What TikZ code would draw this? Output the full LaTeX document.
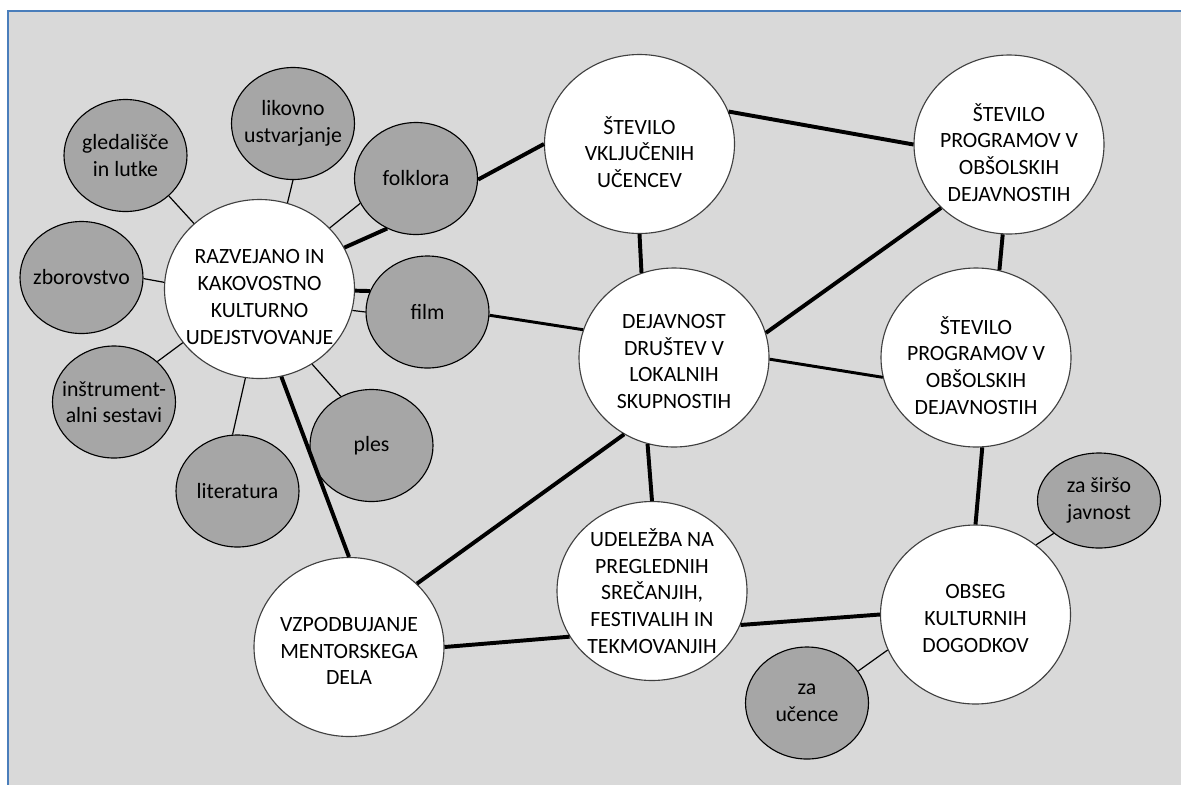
\documentclass[tikz,border=0pt]{standalone}
\usepackage{fontspec}
\setmainfont{Carlito}
\usetikzlibrary{shapes.geometric}
\definecolor{canvas}{HTML}{D9D9D9}
\definecolor{topicgray}{HTML}{A6A6A6}
\definecolor{framebl}{HTML}{4A7EBB}
\definecolor{rim}{HTML}{404040}
\tikzstyle{txt} = [align=center, font=\fontsize{15.5}{19}\selectfont, inner sep=0pt]
\tikzstyle{goal} = [
    ellipse,
    draw=rim,
    line width=0.8pt,
    fill=white,
    minimum width=47.5mm,
    minimum height=44.75mm,
    inner sep=0pt
]
\tikzstyle{topic} = [
    ellipse,
    draw,
    line width=0.8pt,
    fill=topicgray,
    minimum width=30.75mm,
    minimum height=28mm,
    inner sep=0pt
]
\tikzstyle{weak link} = [line width=0.85pt]
\tikzstyle{mid link} = [line width=2.1pt]
\tikzstyle{strong link} = [line width=2.8pt]

\begin{document}
\begin{tikzpicture}[x=0.25mm, y=-0.25mm]
    \useasboundingbox (0, 0) rectangle (1181, 785);

    % Background.
    \fill [white] (0, 0) rectangle (1181, 785);
    \fill [canvas] (8, 11) rectangle (1181, 785);
    \draw [framebl, line width=1.4pt] (1181, 11) -- (8, 11) -- (8, 785);

    % Main nodes.
    \node (razvejano) [goal, label={[txt, yshift=-2mm]center:RAZVEJANO IN\\KAKOVOSTNO\\KULTURNO\\UDEJSTVOVANJE}] at (259.5, 289) {};
    \node (stevilo ucencev) [goal, label={[txt, yshift=-2mm]center:ŠTEVILO\\VKLJUČENIH\\UČENCEV}] at (639.5, 144) {};
    \node (programi top) [goal, label={[txt, yshift=-2mm]center:ŠTEVILO\\PROGRAMOV V\\OBŠOLSKIH\\DEJAVNOSTIH}] at (1009, 144.5) {};
    \node (drustva) [goal, label={[txt, yshift=-1mm]center:DEJAVNOST\\DRUŠTEV V\\LOKALNIH\\SKUPNOSTIH}] at (674, 357.5) {};
    \node (programi bottom) [goal, label={[txt, yshift=-2mm]center:ŠTEVILO\\PROGRAMOV V\\OBŠOLSKIH\\DEJAVNOSTIH}] at (976, 357.5) {};
    \node (udelezba) [goal, label={[txt]center:UDELEŽBA NA\\PREGLEDNIH\\SREČANJIH,\\FESTIVALIH IN\\TEKMOVANJIH}] at (652, 591) {};
    \node (mentorsko delo) [goal, label={[txt, yshift=-1mm]center:VZPODBUJANJE\\MENTORSKEGA\\DELA}] at (349, 647) {};
    \node (obseg) [goal, label={[txt, yshift=-1mm]center:OBSEG\\KULTURNIH\\DOGODKOV}] at (975.5, 614.5) {};

    % Topic nodes.
    \node (likovno) [topic, label={[txt]center:likovno\\ustvarjanje}] at (293, 123.5) {};
    \node (gledalisce) [topic, label={[txt]center:gledališče\\in lutke}] at (125.5, 155.5) {};
    \node (zborovstvo) [topic, label={[txt]center:zborovstvo}] at (81.5, 277.5) {};
    \node (folklora) [topic, label={[txt]center:folklora}] at (416, 178.5) {};
    \node (film) [topic, label={[txt]center:film}] at (427.5, 312) {};
    \node (instrumentalni) [topic, label={[txt]center:inštrument-\\alni sestavi}] at (114, 402) {};
    \node (ples) [topic, label={[txt]center:ples}] at (371.5, 445.5) {};
    \node (literatura) [topic, label={[txt]center:literatura}] at (237.5, 491) {};
    \node (sirsa javnost) [topic, minimum height=23.75mm, label={[txt]center:za širšo\\javnost}] at (1099, 500.5) {};
    \node (za ucence) [topic, label={[txt]center:za\\učence}] at (807, 703) {};

    % Links round the first node.
    \draw [weak link] (likovno.270) -- (razvejano.72);
    \draw [weak link] (gledalisce.-43) -- (razvejano.135);
    \draw [weak link] (zborovstvo.-1) -- (razvejano.176);
    \draw [weak link] (instrumentalni.43) -- (razvejano.215);
    \draw [weak link] (literatura.95) -- (razvejano.261);
    \draw [weak link] (ples.122) -- (razvejano.305);
    \draw [weak link] (folklora.204) -- (razvejano.41);
    \draw [strong link] (folklora.240) -- (razvejano.26);
    \draw [strong link] (film.160) -- (razvejano.-1);
    \draw [weak link] (film.180) -- (razvejano.-13);

    % Links between the main nodes.
    \draw [mid link] (film.-3) -- (drustva.163);
    \draw [strong link] (folklora.-1) -- (stevilo ucencev.180);
    \draw [strong link] (stevilo ucencev.20) -- (programi top.180);
    \draw [strong link] (stevilo ucencev.270) -- (drustva.111);
    \draw [strong link] (programi top.223) -- (drustva.15);
    \draw [strong link] (programi top.266) -- (programi bottom.75);
    \draw [mid link] (drustva.-1.5) -- (programi bottom.192);
    \draw [strong link] (drustva.253.5) -- (udelezba.90);
    \draw [strong link] (drustva.237.7) -- (mentorsko delo.43);
    \draw [strong link] (razvejano.284) -- (mentorsko delo.90);
    \draw [strong link] (mentorsko delo.0) -- (udelezba.209);
    \draw [strong link] (udelezba.-21) -- (obseg.180);
    \draw [strong link] (programi bottom.274) -- (obseg.90);

    % Audiences.
    \draw [weak link] (sirsa javnost.216) -- (obseg.49);
    \draw [weak link] (za ucence.32) -- (obseg.202);
\end{tikzpicture}
\end{document}
